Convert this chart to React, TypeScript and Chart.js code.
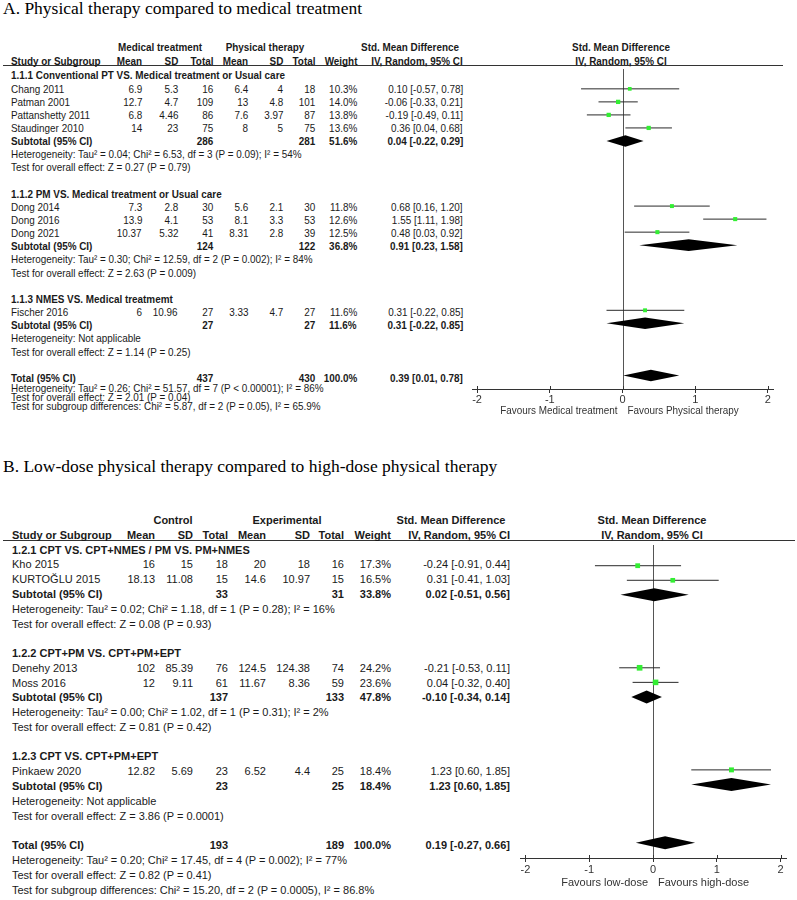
import React, { useEffect, useRef } from "react";
import { Chart, registerables } from "chart.js";
Chart.register(...registerables);

const FONT = '"Liberation Sans", Arial, Helvetica, sans-serif';
const SERIF = '"Liberation Serif", "Times New Roman", serif';

// ================= Panel A data =================
const aTitle = "A. Physical therapy compared to medical treatment";
const aArms = ["Medical treatment", "Physical therapy"];
const aSubgroups = [
  "1.1.1 Conventional PT VS. Medical treatment or Usual care",
  "1.1.2 PM VS. Medical treatment or Usual care",
  "1.1.3 NMES VS. Medical treatmemt",
];
const aStudies = ["Chang 2011", "Patman 2001", "Pattanshetty 2011", "Staudinger 2010", "Dong 2014", "Dong 2016", "Dong 2021", "Fischer 2016"];
const aStudyGroup = [0, 0, 0, 0, 1, 1, 1, 2];
const aMeanC = [6.9, 12.7, 6.8, 14, 7.3, 13.9, 10.37, 6];
const aSdC = [5.3, 4.7, 4.46, 23, 2.8, 4.1, 5.32, 10.96];
const aNC = [16, 109, 86, 75, 30, 53, 41, 27];
const aMeanE = [6.4, 13, 7.6, 8, 5.6, 8.1, 8.31, 3.33];
const aSdE = [4, 4.8, 3.97, 5, 2.1, 3.3, 2.8, 4.7];
const aNE = [18, 101, 87, 75, 30, 53, 39, 27];
const aWeight = [10.3, 14.0, 13.8, 13.6, 11.8, 12.6, 12.5, 11.6];
const aSmd = [0.10, -0.06, -0.19, 0.36, 0.68, 1.55, 0.48, 0.31];
const aLo = [-0.57, -0.33, -0.49, 0.04, 0.16, 1.11, 0.03, -0.22];
const aHi = [0.78, 0.21, 0.11, 0.68, 1.20, 1.98, 0.92, 0.85];
const aSubNC = [286, 124, 27];
const aSubNE = [281, 122, 27];
const aSubWeight = [51.6, 36.8, 11.6];
const aSubSmd = [0.04, 0.91, 0.31];
const aSubLo = [-0.22, 0.23, -0.22];
const aSubHi = [0.29, 1.58, 0.85];
const aSubHet = [
  "Tau² = 0.04; Chi² = 6.53, df = 3 (P = 0.09); I² = 54%",
  "Tau² = 0.30; Chi² = 12.59, df = 2 (P = 0.002); I² = 84%",
  "Not applicable",
];
const aSubZ = ["Z = 0.27 (P = 0.79)", "Z = 2.63 (P = 0.009)", "Z = 1.14 (P = 0.25)"];
const aTotN = [437, 430];
const aTotWeight = 100.0;
const aTotEffect = [0.39, 0.01, 0.78];
const aTotHet = "Tau² = 0.26; Chi² = 51.57, df = 7 (P < 0.00001); I² = 86%";
const aTotZ = "Z = 2.01 (P = 0.04)";
const aSubgroupDiff = "Chi² = 5.87, df = 2 (P = 0.05), I² = 65.9%";
const aTicks = [-2, -1, 0, 1, 2];
const aFavours = ["Favours Medical treatment", "Favours Physical therapy"];

// ================= Panel B data =================
const bTitle = "B. Low-dose physical therapy compared to high-dose physical therapy";
const bArms = ["Control", "Experimental"];
const bSubgroups = [
  "1.2.1 CPT VS. CPT+NMES / PM VS. PM+NMES",
  "1.2.2 CPT+PM VS. CPT+PM+EPT",
  "1.2.3 CPT VS. CPT+PM+EPT",
];
const bStudies = ["Kho 2015", "KURTOĞLU 2015", "Denehy 2013", "Moss 2016", "Pinkaew 2020"];
const bStudyGroup = [0, 0, 1, 1, 2];
const bMeanC = [16, 18.13, 102, 12, 12.82];
const bSdC = [15, 11.08, 85.39, 9.11, 5.69];
const bNC = [18, 15, 76, 61, 23];
const bMeanE = [20, 14.6, 124.5, 11.67, 6.52];
const bSdE = [18, 10.97, 124.38, 8.36, 4.4];
const bNE = [16, 15, 74, 59, 25];
const bWeight = [17.3, 16.5, 24.2, 23.6, 18.4];
const bSmd = [-0.24, 0.31, -0.21, 0.04, 1.23];
const bLo = [-0.91, -0.41, -0.53, -0.32, 0.60];
const bHi = [0.44, 1.03, 0.11, 0.40, 1.85];
const bSubNC = [33, 137, 23];
const bSubNE = [31, 133, 25];
const bSubWeight = [33.8, 47.8, 18.4];
const bSubSmd = [0.02, -0.10, 1.23];
const bSubLo = [-0.51, -0.34, 0.60];
const bSubHi = [0.56, 0.14, 1.85];
const bSubHet = [
  "Tau² = 0.02; Chi² = 1.18, df = 1 (P = 0.28); I² = 16%",
  "Tau² = 0.00; Chi² = 1.02, df = 1 (P = 0.31); I² = 2%",
  "Not applicable",
];
const bSubZ = ["Z = 0.08 (P = 0.93)", "Z = 0.81 (P = 0.42)", "Z = 3.86 (P = 0.0001)"];
const bTotN = [193, 189];
const bTotWeight = 100.0;
const bTotEffect = [0.19, -0.27, 0.66];
const bTotHet = "Tau² = 0.20; Chi² = 17.45, df = 4 (P = 0.002); I² = 77%";
const bTotZ = "Z = 0.82 (P = 0.41)";
const bSubgroupDiff = "Chi² = 15.20, df = 2 (P = 0.0005), I² = 86.8%";
const bTicks = [-2, -1, 0, 1, 2];
const bFavours = ["Favours low-dose", "Favours high-dose"];

// ================= assembled panel tables =================
const panelA = {
  title: aTitle, arms: aArms, subgroups: aSubgroups, studies: aStudies, studyGroup: aStudyGroup,
  meanC: aMeanC, sdC: aSdC, nC: aNC, meanE: aMeanE, sdE: aSdE, nE: aNE,
  weight: aWeight, smd: aSmd, lo: aLo, hi: aHi,
  subNC: aSubNC, subNE: aSubNE, subWeight: aSubWeight, subSmd: aSubSmd, subLo: aSubLo, subHi: aSubHi,
  subHet: aSubHet, subZ: aSubZ, totN: aTotN, totWeight: aTotWeight, totEffect: aTotEffect,
  totHet: aTotHet, totZ: aTotZ, subgroupDiff: aSubgroupDiff, ticks: aTicks, favours: aFavours,
};
const panelB = {
  title: bTitle, arms: bArms, subgroups: bSubgroups, studies: bStudies, studyGroup: bStudyGroup,
  meanC: bMeanC, sdC: bSdC, nC: bNC, meanE: bMeanE, sdE: bSdE, nE: bNE,
  weight: bWeight, smd: bSmd, lo: bLo, hi: bHi,
  subNC: bSubNC, subNE: bSubNE, subWeight: bSubWeight, subSmd: bSubSmd, subLo: bSubLo, subHi: bSubHi,
  subHet: bSubHet, subZ: bSubZ, totN: bTotN, totWeight: bTotWeight, totEffect: bTotEffect,
  totHet: bTotHet, totZ: bTotZ, subgroupDiff: bSubgroupDiff, ticks: bTicks, favours: bFavours,
};

// ================= layout / style =================
const geoA = {
  titleTop: 0, hdr1Y: 47, hdr2Y: 61, ruleY: 65, ruleX0: 3, ruleX1: 783,
  top0: 72.85, lh: 13.15, textDy: 2.5, footGap: 10, footLH: 9.3, sx: 0.9,
  cols: { name: 10.5, meanC: 142, sdC: 178, nC: 213, meanE: 248, sdE: 283, nE: 315, weight: 357, ci: 463 },
  hdrC: 160, hdrE: 264.5, hdrCI: 410, hdrPlot: 621,
  canvasLeft: 440, canvasTop: 66, canvasWidth: 357, padL: 32, padR: 24,
  axisY: 389, tickPad: 1, favDy: 22, padBottom: 22,
  xMin: -2.07, xMax: 2.07, diamondHalf: 5.8, sqK: 1.15,
};
const geoB = {
  titleTop: 457.8, hdr1Y: 520, hdr2Y: 535, ruleY: 540, ruleX0: 3, ruleX1: 795,
  top0: 547.2, lh: 14.77, textDy: 2.5, footGap: 15, footLH: 14.8, sx: 1.0,
  cols: { name: 12, meanC: 155, sdC: 193, nC: 228, meanE: 266, sdE: 310, nE: 344, weight: 391, ci: 510 },
  hdrC: 173, hdrE: 287, hdrCI: 451, hdrPlot: 652,
  canvasLeft: 500, canvasTop: 541, canvasWidth: 297, padL: 20, padR: 11,
  axisY: 858, tickPad: 2.5, favDy: 25, padBottom: 24,
  xMin: -2.085, xMax: 2.085, diamondHalf: 6.5, sqK: 1.15,
};

const TEXT_COLOR = "#1a1a1a";
const GREEN = "#33ee33";
const PAGE_W = 797;

const fmtCI = (e: number, lo: number, hi: number) => `${e.toFixed(2)} [${lo.toFixed(2)}, ${hi.toFixed(2)}]`;
const fmtW = (w: number) => `${w.toFixed(1)}%`;

function buildRows(d: any) {
  const rows: any[] = [];
  let L = 0;
  d.subgroups.forEach((_t: string, gi: number) => {
    rows.push({ kind: "group", L, g: gi });
    L++;
    d.studies.forEach((_: string, si: number) => {
      if (d.studyGroup[si] === gi) {
        rows.push({ kind: "study", L, i: si });
        L++;
      }
    });
    rows.push({ kind: "sub", L, g: gi }); L++;
    rows.push({ kind: "het", L, g: gi }); L++;
    rows.push({ kind: "test", L, g: gi }); L++;
    L++;
  });
  rows.push({ kind: "total", L });
  return rows;
}

function Txt({ x, y, text, align = "left", bold = false, sx = 1, size = 11 }: any) {
  const st: any = {
    position: "absolute",
    top: y,
    whiteSpace: "nowrap",
    fontFamily: FONT,
    fontSize: size,
    lineHeight: `${size}px`,
    fontWeight: bold ? "bold" : "normal",
    color: TEXT_COLOR,
  };
  if (align === "left") {
    st.left = x;
    st.transformOrigin = "left center";
    st.transform = `translateY(-50%) scaleX(${sx})`;
  } else if (align === "right") {
    st.right = PAGE_W - x;
    st.transformOrigin = "right center";
    st.transform = `translateY(-50%) scaleX(${sx})`;
  } else {
    st.left = x;
    st.transformOrigin = "center center";
    st.transform = `translate(-50%, -50%) scaleX(${sx})`;
  }
  return <span style={st}>{text}</span>;
}

function forestPlugin(cfg: any) {
  return {
    id: "forest",
    beforeDatasetsDraw(chart: any) {
      const { ctx, chartArea, scales } = chart;
      const x = scales.x, y = scales.y;
      ctx.save();
      const x0 = Math.round(x.getPixelForValue(0)) + 0.5;
      ctx.strokeStyle = "#555";
      ctx.lineWidth = 1;
      ctx.beginPath();
      ctx.moveTo(x0, chartArea.top);
      ctx.lineTo(x0, chartArea.bottom);
      ctx.stroke();
      ctx.strokeStyle = "#2a2a2a";
      cfg.cis.forEach((c: any) => {
        const yy = y.getPixelForValue(c.L);
        ctx.beginPath();
        ctx.moveTo(x.getPixelForValue(c.lo), yy);
        ctx.lineTo(x.getPixelForValue(c.hi), yy);
        ctx.stroke();
      });
      ctx.fillStyle = "#000";
      cfg.diamonds.forEach((dm: any) => {
        const yy = y.getPixelForValue(dm.L);
        const h = cfg.half;
        ctx.beginPath();
        ctx.moveTo(x.getPixelForValue(dm.lo), yy);
        ctx.lineTo(x.getPixelForValue(dm.e), yy - h);
        ctx.lineTo(x.getPixelForValue(dm.hi), yy);
        ctx.lineTo(x.getPixelForValue(dm.e), yy + h);
        ctx.closePath();
        ctx.fill();
      });
      ctx.restore();
    },
    afterDraw(chart: any) {
      const { ctx, chartArea, scales } = chart;
      const x = scales.x;
      ctx.save();
      ctx.strokeStyle = "#333";
      ctx.lineWidth = 1;
      cfg.ticks.forEach((v: number) => {
        const px = Math.round(x.getPixelForValue(v)) + 0.5;
        ctx.beginPath();
        ctx.moveTo(px, chartArea.bottom - 3);
        ctx.lineTo(px, chartArea.bottom);
        ctx.stroke();
      });
      const x0 = x.getPixelForValue(0);
      const yy = chartArea.bottom + cfg.favDy;
      ctx.fillStyle = "#333";
      ctx.font = `11px ${FONT}`;
      ctx.textBaseline = "middle";
      ctx.translate(x0, yy);
      ctx.scale(cfg.sx, 1);
      ctx.textAlign = "right";
      ctx.fillText(cfg.favours[0], -5 / cfg.sx, 0);
      ctx.textAlign = "left";
      ctx.fillText(cfg.favours[1], 5 / cfg.sx, 0);
      ctx.restore();
    },
  };
}

function Panel({ d, g }: any) {
  const ref = useRef<HTMLCanvasElement | null>(null);
  const rows = buildRows(d);
  const axisH = 4 + 11 + 2 * g.tickPad;
  const areaH = g.axisY - g.canvasTop;
  const canvasH = areaH + axisH + g.padBottom;

  useEffect(() => {
    const studyRows = rows.filter((r) => r.kind === "study");
    const subRows = rows.filter((r) => r.kind === "sub");
    const totRow = rows.find((r) => r.kind === "total");
    const ymin = (g.canvasTop - g.top0) / g.lh;
    const ymax = (g.axisY - g.top0) / g.lh;
    const points = studyRows.map((r) => ({ x: d.smd[r.i], y: r.L }));
    const radii = studyRows.map((r) => (g.sqK * Math.sqrt(d.weight[r.i])) / Math.SQRT2);
    const cis = studyRows.map((r) => ({ lo: d.lo[r.i], hi: d.hi[r.i], L: r.L }));
    const diamonds = subRows
      .map((r) => ({ e: d.subSmd[r.g], lo: d.subLo[r.g], hi: d.subHi[r.g], L: r.L }))
      .concat([{ e: d.totEffect[0], lo: d.totEffect[1], hi: d.totEffect[2], L: totRow.L }]);
    const chart = new Chart(ref.current as HTMLCanvasElement, {
      type: "scatter",
      data: {
        datasets: [
          {
            data: points,
            pointStyle: "rect",
            pointRadius: radii,
            pointHoverRadius: radii,
            backgroundColor: GREEN,
            pointBackgroundColor: GREEN,
            borderWidth: 0,
            pointBorderWidth: 0,
          } as any,
        ],
      },
      options: {
        animation: false,
        responsive: false,
        devicePixelRatio: 1,
        events: [],
        layout: { padding: { left: g.padL, right: g.padR, top: 0, bottom: g.padBottom } },
        plugins: { legend: { display: false }, tooltip: { enabled: false } },
        scales: {
          x: {
            type: "linear",
            min: g.xMin,
            max: g.xMax,
            afterBuildTicks: (s: any) => {
              s.ticks = d.ticks.map((v: number) => ({ value: v }));
            },
            ticks: {
              font: { family: FONT, size: 11, lineHeight: 1 },
              color: "#333",
              padding: g.tickPad,
              autoSkip: false,
              maxRotation: 0,
              callback: (v: any) => String(v),
            },
            grid: { drawOnChartArea: false, drawTicks: true, tickLength: 4, color: "#333", lineWidth: 1 },
            border: { display: true, color: "#333", width: 1 },
          },
          y: { type: "linear", display: false, min: ymin, max: ymax, reverse: true },
        },
      } as any,
      plugins: [forestPlugin({ cis, diamonds, half: g.diamondHalf, ticks: d.ticks, favours: d.favours, favDy: g.favDy, sx: g.sx })],
    });
    return () => chart.destroy();
  }, []);

  const c = g.cols;
  const sx = g.sx;
  const ty = (L: number) => g.top0 + L * g.lh + g.textDy;
  const items: any[] = [];
  let k = 0;
  const add = (x: number, y: number, text: any, align: string, bold = false) => {
    items.push(<Txt key={k++} x={x} y={y} text={String(text)} align={align} bold={bold} sx={sx} />);
  };

  // headers
  add(g.hdrC, g.hdr1Y, d.arms[0], "center", true);
  add(g.hdrE, g.hdr1Y, d.arms[1], "center", true);
  add(g.hdrCI, g.hdr1Y, "Std. Mean Difference", "center", true);
  add(g.hdrPlot, g.hdr1Y, "Std. Mean Difference", "center", true);
  add(c.name, g.hdr2Y, "Study or Subgroup", "left", true);
  add(c.meanC, g.hdr2Y, "Mean", "right", true);
  add(c.sdC, g.hdr2Y, "SD", "right", true);
  add(c.nC, g.hdr2Y, "Total", "right", true);
  add(c.meanE, g.hdr2Y, "Mean", "right", true);
  add(c.sdE, g.hdr2Y, "SD", "right", true);
  add(c.nE, g.hdr2Y, "Total", "right", true);
  add(c.weight, g.hdr2Y, "Weight", "right", true);
  add(c.ci, g.hdr2Y, "IV, Random, 95% CI", "right", true);
  add(g.hdrPlot, g.hdr2Y, "IV, Random, 95% CI", "center", true);

  rows.forEach((r) => {
    const y = ty(r.L);
    if (r.kind === "group") add(c.name, y, d.subgroups[r.g], "left", true);
    else if (r.kind === "study") {
      const i = r.i;
      add(c.name, y, d.studies[i], "left");
      add(c.meanC, y, d.meanC[i], "right");
      add(c.sdC, y, d.sdC[i], "right");
      add(c.nC, y, d.nC[i], "right");
      add(c.meanE, y, d.meanE[i], "right");
      add(c.sdE, y, d.sdE[i], "right");
      add(c.nE, y, d.nE[i], "right");
      add(c.weight, y, fmtW(d.weight[i]), "right");
      add(c.ci, y, fmtCI(d.smd[i], d.lo[i], d.hi[i]), "right");
    } else if (r.kind === "sub") {
      add(c.name, y, "Subtotal (95% CI)", "left", true);
      add(c.nC, y, d.subNC[r.g], "right", true);
      add(c.nE, y, d.subNE[r.g], "right", true);
      add(c.weight, y, fmtW(d.subWeight[r.g]), "right", true);
      add(c.ci, y, fmtCI(d.subSmd[r.g], d.subLo[r.g], d.subHi[r.g]), "right", true);
    } else if (r.kind === "het") add(c.name, y, "Heterogeneity: " + d.subHet[r.g], "left");
    else if (r.kind === "test") add(c.name, y, "Test for overall effect: " + d.subZ[r.g], "left");
    else if (r.kind === "total") {
      add(c.name, y, "Total (95% CI)", "left", true);
      add(c.nC, y, d.totN[0], "right", true);
      add(c.nE, y, d.totN[1], "right", true);
      add(c.weight, y, fmtW(d.totWeight), "right", true);
      add(c.ci, y, fmtCI(d.totEffect[0], d.totEffect[1], d.totEffect[2]), "right", true);
      const f0 = y + g.footGap;
      add(c.name, f0, "Heterogeneity: " + d.totHet, "left");
      add(c.name, f0 + g.footLH, "Test for overall effect: " + d.totZ, "left");
      add(c.name, f0 + 2 * g.footLH, "Test for subgroup differences: " + d.subgroupDiff, "left");
    }
  });

  return (
    <>
      <div
        style={{
          position: "absolute",
          left: 3,
          top: g.titleTop,
          fontFamily: SERIF,
          fontSize: 17.5,
          lineHeight: "17.5px",
          color: "#000",
          whiteSpace: "nowrap",
        }}
      >
        {d.title}
      </div>
      <div
        style={{
          position: "absolute",
          left: g.ruleX0,
          top: g.ruleY,
          width: g.ruleX1 - g.ruleX0,
          height: 1,
          background: "#333",
        }}
      />
      {items}
      <canvas
        ref={ref}
        width={g.canvasWidth}
        height={canvasH}
        style={{ position: "absolute", left: g.canvasLeft, top: g.canvasTop, width: g.canvasWidth, height: canvasH, display: "block" }}
      />
    </>
  );
}

export default function App() {
  return (
    <div style={{ position: "absolute", left: 0, top: 0, width: 797, height: 900, background: "#fff", overflow: "hidden" }}>
      <Panel d={panelA} g={geoA} />
      <Panel d={panelB} g={geoB} />
    </div>
  );
}
